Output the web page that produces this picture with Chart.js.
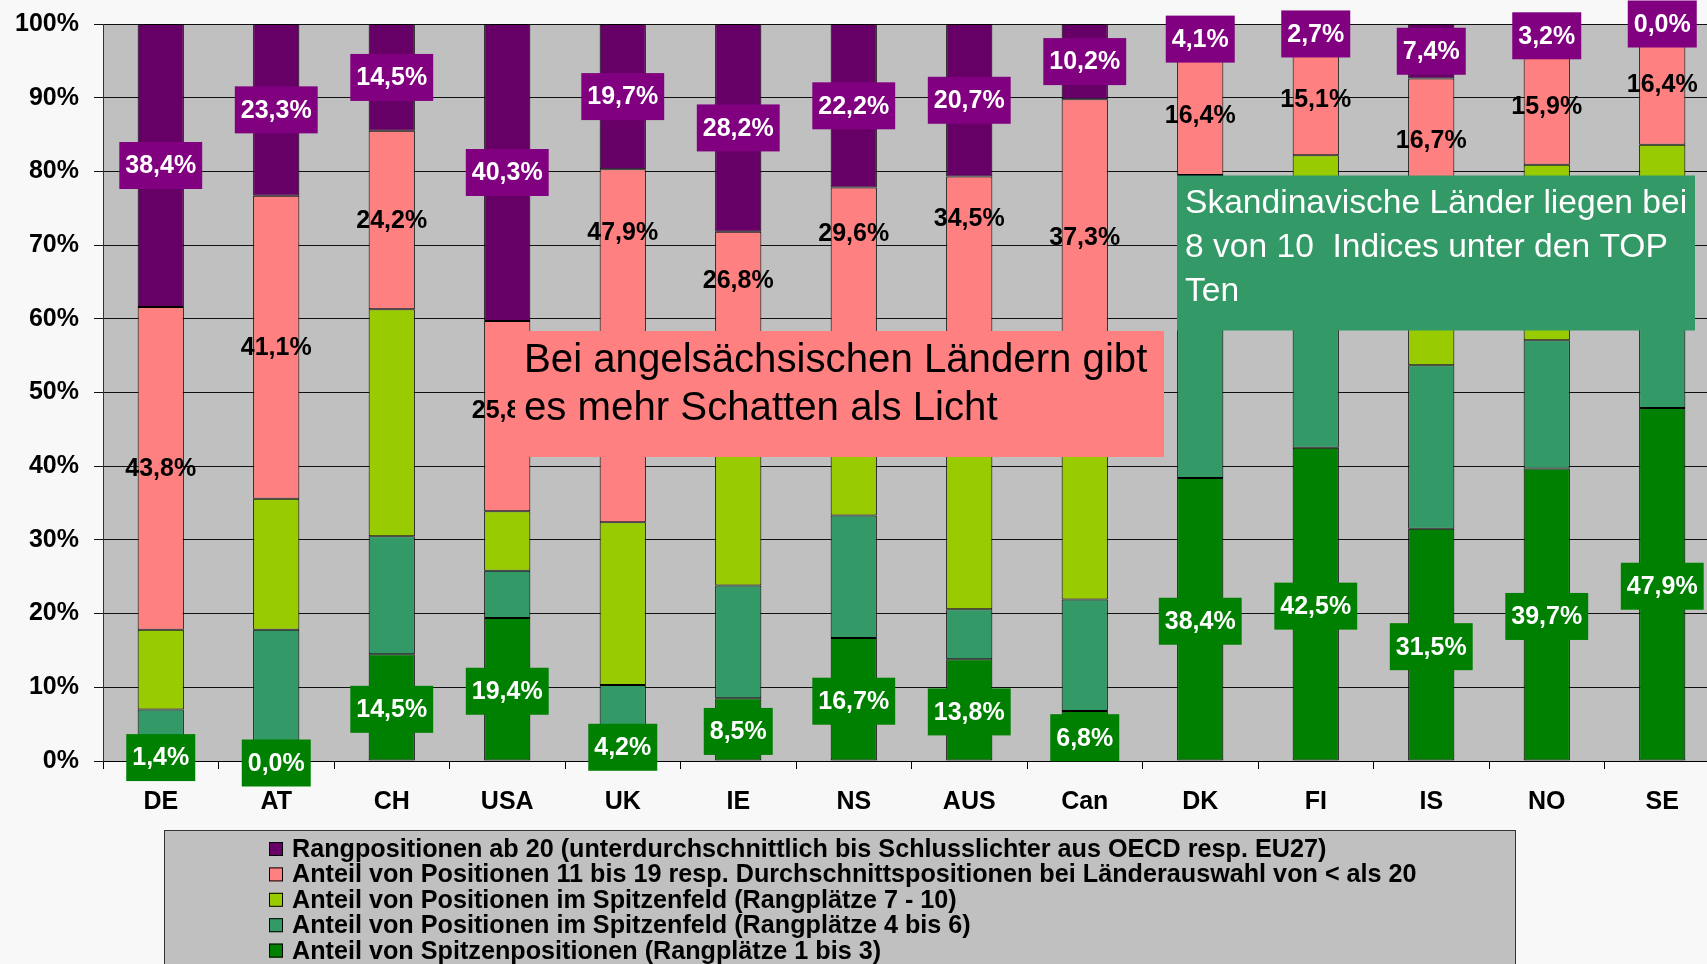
<!DOCTYPE html>
<html>
<head>
<meta charset="utf-8">
<script src="https://cdn.jsdelivr.net/npm/chart.js@4.4.1/dist/chart.umd.min.js"></script>
<style>
html,body{margin:0;padding:0;background:#f8f8f8;overflow:hidden;width:1707px;height:964px}
#wrap{position:absolute;left:0;top:0;width:1725px;height:964px}
canvas{display:block}
</style>
</head>
<body>
<div id="wrap"><canvas id="c" width="1725" height="964"></canvas></div>
<script>
// ---- data ----
const categories = ['DE','AT','CH','USA','UK','IE','NS','AUS','Can','DK','FI','IS','NO','SE'];
const top1to3   = [1.4, 0.0, 14.5, 19.4, 4.2, 8.5, 16.7, 13.8, 6.8, 38.4, 42.5, 31.5, 39.7, 47.9];
const rank4to6  = [5.6, 17.8, 16.0, 6.4, 6.1, 15.3, 16.6, 6.8, 15.1, 25.0, 30.0, 22.2, 17.4, 20.0];
const rank7to10 = [10.8, 17.8, 30.8, 8.1, 22.1, 21.2, 14.9, 24.2, 30.6, 16.1, 9.7, 22.2, 23.8, 15.7];
const rank11to19 = [43.8, 41.1, 24.2, 25.8, 47.9, 26.8, 29.6, 34.5, 37.3, 16.4, 15.1, 16.7, 15.9, 16.4];
const rank20plus = [38.4, 23.3, 14.5, 40.3, 19.7, 28.2, 22.2, 20.7, 10.2, 4.1, 2.7, 7.4, 3.2, 0.0];
// label anchor (in % of the axis) where the original moved a pink label by hand
const rank11to19LabelAt = [null, null, null, 47.6, 71.8, 65.3, 71.6, 73.65, null, null, null, null, null, null];
const yTicks = [0,10,20,30,40,50,60,70,80,90,100];

const seriesNames = [
  'Anteil von Spitzenpositionen (Rangplätze 1 bis 3)',
  'Anteil von Positionen im Spitzenfeld (Rangplätze 4 bis 6)',
  'Anteil von Positionen im Spitzenfeld (Rangplätze 7 - 10)',
  'Anteil von Positionen 11 bis 19 resp. Durchschnittspositionen bei Länderauswahl von < als 20',
  'Rangpositionen ab 20 (unterdurchschnittlich bis Schlusslichter aus OECD resp. EU27)'
];
const calloutPink = ['Bei angelsächsischen Ländern gibt', 'es mehr Schatten als Licht'];
const calloutGreen = ['Skandinavische Länder liegen bei', '8 von 10  Indices unter den TOP', 'Ten'];

// ---- styles ----
const FONT = "'Liberation Sans', Arial, Helvetica, sans-serif";
const colors = ['#008000', '#339966', '#99CC00', '#FF8080', '#660066'];
const labelStyles = [
  {type:'box', fill:'#008000', color:'#ffffff', dy:2},
  null,
  null,
  {type:'plain', color:'#000000'},
  {type:'box', fill:'#800080', color:'#ffffff', dy:0}
];
const fmt = v => v.toFixed(1).replace('.', ',') + '%';

const seriesData = [top1to3, rank4to6, rank7to10, rank11to19, rank20plus];
const labelAt = [null, null, null, rank11to19LabelAt, null];

const datasets = seriesData.map((d, i) => ({
  label: seriesNames[i],
  data: d,
  backgroundColor: colors[i],
  borderColor: '#000000',
  borderWidth: 1,
  borderSkipped: false,
  categoryPercentage: 1.0,
  barPercentage: 0.4
}));

const bgPlugin = {
  id: 'bg',
  beforeDraw(chart) {
    const {ctx, chartArea: a} = chart;
    ctx.save();
    ctx.fillStyle = '#f8f8f8';
    ctx.fillRect(0, 0, chart.width, chart.height);
    ctx.fillStyle = '#C0C0C0';
    ctx.fillRect(a.left, a.top, a.right - a.left, a.bottom - a.top);
    ctx.restore();
  }
};

const labelPlugin = {
  id: 'valueLabels',
  afterDatasetsDraw(chart) {
    const ctx = chart.ctx;
    const ys = chart.scales.y;
    ctx.save();
    ctx.font = 'bold 25px ' + FONT;
    ctx.textAlign = 'center';
    ctx.textBaseline = 'middle';
    chart.data.datasets.forEach((ds, di) => {
      const st = labelStyles[di];
      if (!st) return;
      const meta = chart.getDatasetMeta(di);
      meta.data.forEach((bar, i) => {
        const p = bar.getProps(['x', 'y', 'base'], true);
        let cy = (p.y + p.base) / 2;
        if (labelAt[di] && labelAt[di][i] != null) cy = ys.getPixelForValue(labelAt[di][i]);
        const txt = fmt(ds.data[i]);
        if (st.type === 'box') {
          cy += st.dy;
          const w = ctx.measureText(txt).width + 12;
          const h = 47;
          ctx.fillStyle = st.fill;
          ctx.fillRect(p.x - w / 2, cy - h / 2, w, h);
        }
        ctx.fillStyle = st.color;
        ctx.fillText(txt, p.x, cy + 1);
      });
    });
    ctx.restore();
  }
};

const overlayPlugin = {
  id: 'overlay',
  afterDraw(chart) {
    const ctx = chart.ctx;
    ctx.save();
    // pink callout
    ctx.fillStyle = '#FF8080';
    ctx.fillRect(515, 331, 649, 126);
    ctx.fillStyle = '#000000';
    ctx.font = '40.2px ' + FONT;
    ctx.textAlign = 'left';
    ctx.textBaseline = 'alphabetic';
    calloutPink.forEach((t, i) => ctx.fillText(t, 524, 372 + i * 48.3));
    // green callout
    ctx.fillStyle = '#339966';
    ctx.fillRect(1177, 175.5, 518, 155);
    ctx.fillStyle = '#ffffff';
    ctx.font = '33.6px ' + FONT;
    calloutGreen.forEach((t, i) => ctx.fillText(t, 1185, 212.5 + i * 44.3));
    // legend
    ctx.fillStyle = '#C0C0C0';
    ctx.fillRect(164, 830, 1351, 140);
    ctx.strokeStyle = '#333333';
    ctx.lineWidth = 1;
    ctx.strokeRect(164.5, 830.5, 1351, 140);
    ctx.font = 'bold 25.2px ' + FONT;
    const ds = chart.data.datasets;
    for (let k = 0; k < ds.length; k++) {
      const di = ds.length - 1 - k;
      const base = 857 + k * 25.4;
      ctx.fillStyle = ds[di].backgroundColor;
      ctx.fillRect(269, base - 15, 14, 14);
      ctx.strokeStyle = '#000';
      ctx.strokeRect(269.5, base - 14.5, 13, 13);
      ctx.fillStyle = '#000';
      ctx.fillText(ds[di].label, 292, base);
    }
    ctx.restore();
  }
};

new Chart(document.getElementById('c'), {
  type: 'bar',
  data: { labels: categories, datasets },
  plugins: [bgPlugin, labelPlugin, overlayPlugin],
  options: {
    responsive: false,
    devicePixelRatio: 1,
    animation: false,
    layout: { padding: { top: 24, left: 0, right: 5, bottom: 0 } },
    plugins: { legend: { display: false }, tooltip: { enabled: false } },
    scales: {
      x: {
        stacked: true,
        grid: { display: true, drawOnChartArea: false, drawTicks: true, tickLength: 8, color: '#000', offset: true },
        border: { display: true, color: '#000', width: 1 },
        ticks: { color: '#000', font: { family: FONT, size: 25, weight: 'bold' }, padding: 18, maxRotation: 0, autoSkip: false },
        afterFit: s => { s.height = 203; s.paddingLeft = 0; s.paddingRight = 0; }
      },
      y: {
        stacked: true,
        min: 0, max: 100,
        afterBuildTicks: s => { s.ticks = yTicks.map(v => ({ value: v })); },
        grid: { color: '#111', lineWidth: 1, tickLength: 9, drawTicks: true },
        border: { display: true, color: '#333', width: 1 },
        ticks: { color: '#000', font: { family: FONT, size: 25, weight: 'bold' }, padding: 15, callback: v => v + '%' },
        afterFit: s => { s.width = 103; s.paddingTop = 0; s.paddingBottom = 0; }
      }
    }
  }
});
</script>
</body>
</html>
